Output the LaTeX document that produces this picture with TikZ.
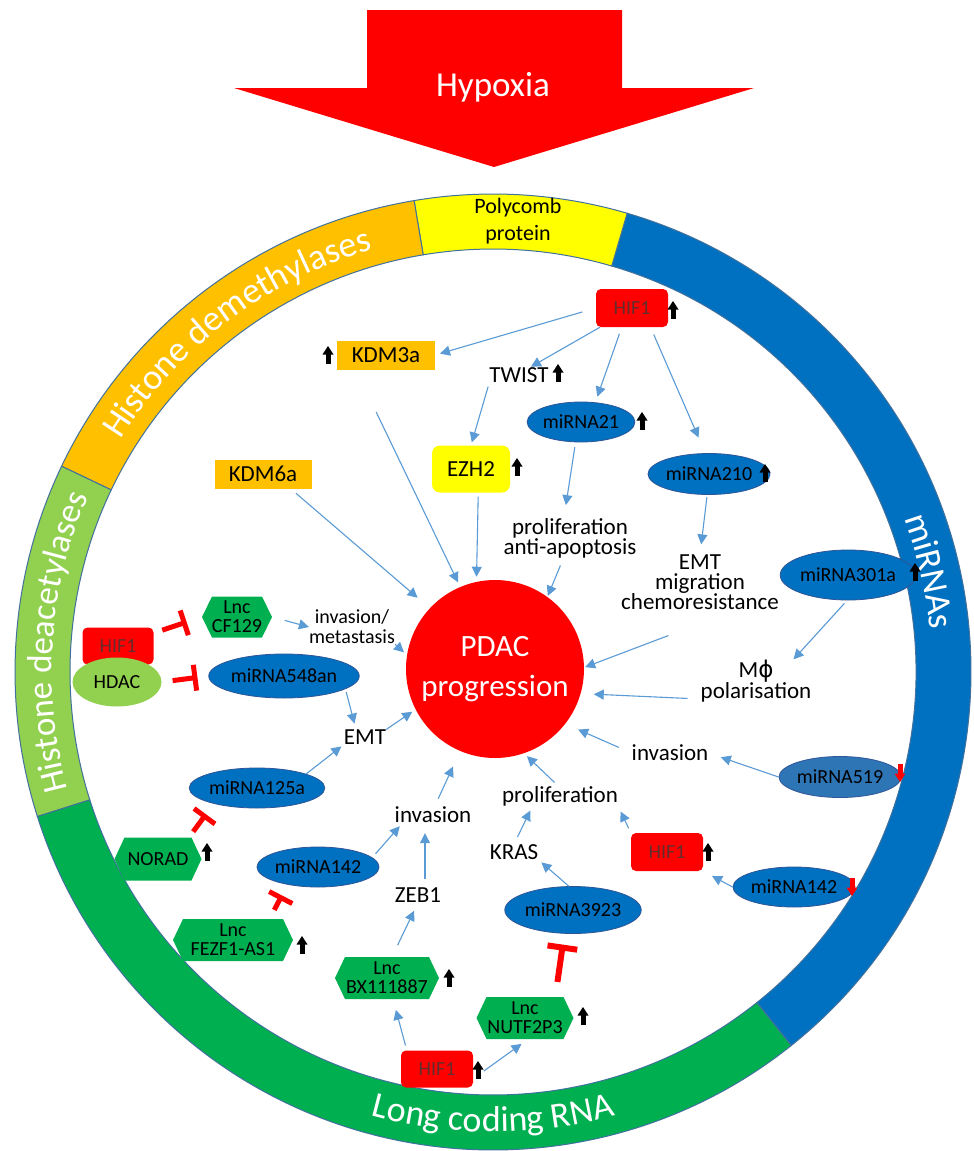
\documentclass[tikz,border=0pt]{standalone}
\usepackage{fontspec}
\setmainfont{Carlito}
\newfontfamily\dejavu{DejaVu Sans}
\usetikzlibrary{shapes.geometric,arrows.meta,decorations.text}
\definecolor{ringblue}{HTML}{0070C0}
\definecolor{polyyellow}{HTML}{FFFF00}
\definecolor{demorange}{HTML}{FFC000}
\definecolor{lightgreen}{HTML}{92D050}
\definecolor{lncgreen}{HTML}{00B050}
\definecolor{ringline}{HTML}{41719C}
\definecolor{connblue}{HTML}{5B9BD5}
\definecolor{ellline}{HTML}{2F5597}
\definecolor{mirblue}{HTML}{0070C0}
\definecolor{mirblueb}{HTML}{2E75B6}
\definecolor{hiftext}{RGB}{100,45,45}
\newcommand{\myfs}[2]{\fontsize{#1}{#2}\selectfont}
\tikzset{
 txt/.style={inner sep=0pt, font=\myfs{23}{20}, align=center, text=black},
 smalltxt/.style={inner sep=0pt, font=\myfs{20}{20}, align=center},
 kdmbox/.style={fill=demorange, minimum width=98pt, minimum height=29pt, inner sep=0pt, font=\myfs{23}{23}},
 hifbox/.style={fill=red, rounded corners=5pt, minimum width=72pt, minimum height=38pt, inner sep=0pt, font=\myfs{20}{20}, text=hiftext},
 mirna/.style={ellipse, fill=mirblue, draw=ellline, line width=0.8pt, inner sep=0pt, font=\myfs{20}{20}},
 lnc/.style={minimum height=42pt, inner sep=0pt, align=center, font=\myfs{20}{19},
   path picture={\fill[lncgreen] (path picture bounding box.west) -- ([xshift=10pt]path picture bounding box.north west) -- ([xshift=-10pt]path picture bounding box.north east) -- (path picture bounding box.east) -- ([xshift=-10pt]path picture bounding box.south east) -- ([xshift=10pt]path picture bounding box.south west) -- cycle;}},
 conn/.style={draw=connblue, line width=1.1pt, -{Triangle[length=10pt,width=10pt]}},
 inhib/.style={draw=red, line width=5pt, -{Bar[width=26pt]}},
 segment/.style={draw=ringline, line width=1pt},
 uparr/.pic={\fill[black] (-2.5,-9) rectangle (2.5,1); \fill[black] (-5.5,0.5) -- (0,9) -- (5.5,0.5) -- cycle;},
 downarr/.pic={\fill[red] (-2.5,9) rectangle (2.5,-1); \fill[red] (-5.5,-0.5) -- (0,-9) -- (5.5,-0.5) -- cycle;},
}
\begin{document}
\begin{tikzpicture}[x=1pt,y=1pt]
\useasboundingbox (0,0) rectangle (974,-1151);
\fill[white] (0,0) rectangle (974,-1151);
% Hypoxia arrow
\fill[red] (367,-10) -- (622,-10) -- (622,-88) -- (754,-88) -- (494,-167) -- (234,-88) -- (367,-88) -- cycle;
\node[font=\myfs{35}{35}, text=white, anchor=base, inner sep=0pt] (hypoxia) at (493,-96) {Hypoxia};
% ring
\begin{scope}[shift={(493,-672)}]
 \foreach \a/\b/\c in {-51.4/73.7/ringblue, 73.7/99.5/polyyellow, 99.5/154.5/demorange, 154.5/197.6/lightgreen, 197.6/308.6/lncgreen}
  \filldraw[segment, fill=\c] (\a:478) arc[start angle=\a, end angle=\b, radius=478] -- (\b:423) arc[start angle=\b, end angle=\a, radius=423] -- cycle;
 \path[decorate, decoration={text along path, text align=center, text={|\myfs{36}{36}\color{white}|Histone demethylases}}] (154.5:439) arc[start angle=154.5, end angle=99.5, radius=439];
 \path[decorate, decoration={text along path, text align=center, text={|\myfs{35}{35}\color{white}|Histone deacetylases}}] (197.6:441) arc[start angle=197.6, end angle=154.5, radius=441];
 \path[decorate, decoration={text along path, text align=center, text={|\myfs{36}{36}\color{white}|miRNAs}}] (38:439) arc[start angle=38, end angle=-12, radius=439];
 \path[decorate, decoration={text along path, text align=center, text={|\myfs{36}{36}\color{white}|Long coding RNA}}] (230:460) arc[start angle=230, end angle=310, radius=460];
\end{scope}
\node[font=\myfs{22}{27}, align=center, inner sep=0pt] (polycomb) at (518,-221) {Polycomb\\protein};
% nodes
\node[hifbox] (hif1t) at (632,-308) {HIF1};
\node[kdmbox] (kdm3a) at (386,-355) {KDM3a};
\node[txt] (twist) at (519,-375) {TWIST};
\node[mirna, minimum width=98pt, minimum height=40pt] (mir21) at (581,-422) {miRNA21};
\node[mirna, minimum width=98pt, minimum height=41pt] (mir210) at (709,-474) {miRNA210};
\node[fill=polyyellow, rounded corners=8pt, minimum width=78pt, minimum height=47pt, inner sep=0pt, font=\myfs{23}{23}] (ezh2) at (471,-469) {EZH2};
\node[kdmbox, minimum width=97pt] (kdm6a) at (263,-474) {KDM6a};
\node[txt] (prolif1) at (570,-538) {proliferation\\anti-apoptosis};
\node[txt] (emt3) at (700,-582) {EMT\\migration\\chemoresistance};
\node[mirna, minimum width=119pt, minimum height=50pt] (mir301a) at (848,-575) {miRNA301a};
\node[txt] (mphi) at (756,-681) {M{\dejavu ϕ}\\polarisation};
\node[circle, fill=red, minimum size=178pt, inner sep=0pt, text=white, font=\myfs{31}{40}, align=center] (pdac) at (495,-669) {PDAC\\progression};
\node[smalltxt] (invmet) at (352,-627) {invasion/\\metastasis};
\node[lnc, minimum width=70pt, minimum height=41pt] (cf129) at (237,-617) {Lnc\\CF129};
\node[hifbox, minimum width=71pt, minimum height=37pt] (hif1l) at (118,-646) {HIF1};
\node[ellipse, fill=lightgreen, minimum width=89pt, minimum height=49pt, inner sep=0pt, font=\myfs{20}{20}] (hdac) at (117,-682) {HDAC};
\node[mirna, minimum width=122pt, minimum height=44pt] (mir548) at (284,-676) {miRNA548an};
\node[txt] (emtl) at (365,-737) {EMT};
\node[mirna, minimum width=117pt, minimum height=40pt] (mir125) at (257,-788) {miRNA125a};
\node[txt] (inv2) at (433,-815) {invasion};
\node[txt] (invr) at (670,-753) {invasion};
\node[mirna, fill=mirblueb, minimum width=100pt, minimum height=41pt] (mir519) at (840,-777) {miRNA519};
\node[txt] (prolif2) at (560,-796) {proliferation};
\node[lnc, minimum width=87pt, minimum height=43pt] (norad) at (158,-859) {NORAD};
\node[mirna, minimum width=99pt, minimum height=40pt] (mir142l) at (318,-867) {miRNA142};
\node[txt] (zeb1) at (418,-895) {ZEB1};
\node[lnc, minimum width=120pt] (fezf1) at (233,-940) {Lnc\\FEZF1-AS1};
\node[lnc, minimum width=104pt] (bx) at (387,-978) {Lnc\\BX111887};
\node[hifbox, minimum height=37pt] (hif1b) at (437,-1069) {HIF1};
\node[lnc, minimum width=97pt] (nutf) at (525,-1018) {Lnc\\NUTF2P3};
\node[txt] (kras) at (514,-852) {KRAS};
\node[mirna, minimum width=116pt, minimum height=47pt] (mir3923) at (573,-910) {miRNA3923};
\node[hifbox] (hif1r) at (667,-852) {HIF1};
\node[mirna, minimum width=99pt, minimum height=40pt] (mir142r) at (794,-887) {miRNA142};
% level arrows
\foreach \p in {(673,-310),(328,-355),(558,-373),(642,-421),(517,-467),(765,-473),(915,-572),(207,-852),(302,-945),(449,-978),(478,-1070),(583,-1016),(708,-852)}
  \pic at \p {uparr};
\pic at (900,-773) {downarr};
\pic at (852,-887) {downarr};
% connectors
\draw[conn, shorten <=14pt, shorten >=5pt] (hif1t.west) -- (kdm3a.east);
\draw[conn, shorten >=1pt] (hif1t.211) -- (twist.35);
\draw[conn, shorten <=7pt, shorten >=6pt] (hif1t.-118) -- (mir21.54);
\draw[conn, shorten <=8pt, shorten >=17pt] (hif1t.-46) -- (mir210.100);
\draw[conn, shorten <=4pt, shorten >=3pt] (twist.south west) -- (ezh2.north);
\draw[conn, shorten <=5pt, shorten >=13pt] (mir21.-105) -- (prolif1.107);
\draw[conn, shorten <=2pt, shorten >=10pt] (mir210.-95) -- (emt3.north);
\draw[conn, shorten <=47pt, shorten >=5pt] (kdm3a.206) -- (pdac.113);
\draw[conn, shorten <=7pt, shorten >=16pt] (kdm6a.-28) -- (pdac.137);
\draw[conn, shorten <=4pt, shorten >=5pt] (ezh2.-73) -- (pdac.102);
\draw[conn, shorten <=8pt, shorten >=1pt] (prolif1.-108) -- (pdac.54);
\draw[conn, shorten <=73pt, shorten >=1pt] (emt3.-37) -- (pdac.1);
\draw[conn, shorten <=4pt] (mir301a.-92) -- (mphi.30);
\draw[conn, shorten <=13pt, shorten >=13pt] (mphi.198) -- (pdac.-16);
\draw[conn, shorten >=4pt] (invmet.south east) -- (pdac.171);
\draw[conn, shorten <=13pt] (cf129.east) -- (invmet.west);
\draw[inhib, shorten <=9pt, shorten >=16pt] (hif1l.20) -- (cf129.west);
\draw[inhib, shorten <=11pt, shorten >=11pt] (hdac.east) -- (mir548.west);
\draw[conn, shorten <=3pt, shorten >=6pt] (mir548.-12) -- (emtl.140);
\draw[conn, shorten >=4pt] (emtl.north east) -- (pdac.207);
\draw[conn, shorten >=3pt] (mir125.16) -- (emtl.south west);
\draw[conn, shorten <=9pt, shorten >=17pt] (inv2.80) -- (pdac.247);
\draw[conn, shorten <=14pt, shorten >=14pt] (invr.west) -- (pdac.-38);
\draw[conn, shorten >=13pt] (mir519.west) -- (invr.east);
\draw[conn, shorten <=5pt, shorten >=4pt] (prolif2.100) -- (pdac.-71);
\draw[conn, shorten <=5pt, shorten >=6pt] (hif1r.north west) -- (prolif2.south east);
\draw[conn, shorten >=10pt] (mir142r.west) -- (hif1r.south east);
\draw[conn, shorten <=8pt, shorten >=5pt] (kras.north) -- (prolif2.200);
\draw[conn, shorten >=4pt] (mir3923.100) -- (kras.south east);
\draw[inhib, line width=6pt, -{Bar[width=30pt]}, shorten <=15pt, shorten >=11pt] (nutf.35) -- (mir3923.-110);
\draw[inhib, shorten <=10pt, shorten >=12pt] (fezf1.30) -- (mir142l.-150);
\draw[inhib, shorten <=7pt, shorten >=13pt] (norad.35) -- (mir125.-160);
\draw[conn, shorten <=8pt, shorten >=10pt] ([xshift=7pt]zeb1.north) -- ([xshift=-8pt]inv2.south);
\draw[conn, shorten <=13pt, shorten >=9pt] ([xshift=5pt]bx.north) -- (zeb1.south);
\draw[conn, shorten <=5pt, shorten >=4pt] (mir142l.10) -- (inv2.-165);
\draw[conn, shorten <=5pt, shorten >=11pt] ([xshift=6pt]hif1b.north west) -- ([xshift=6pt]bx.south);
\draw[conn, shorten <=13pt, shorten >=8pt] (hif1b.-15) -- ([xshift=3pt]nutf.south);
\end{tikzpicture}
\end{document}
